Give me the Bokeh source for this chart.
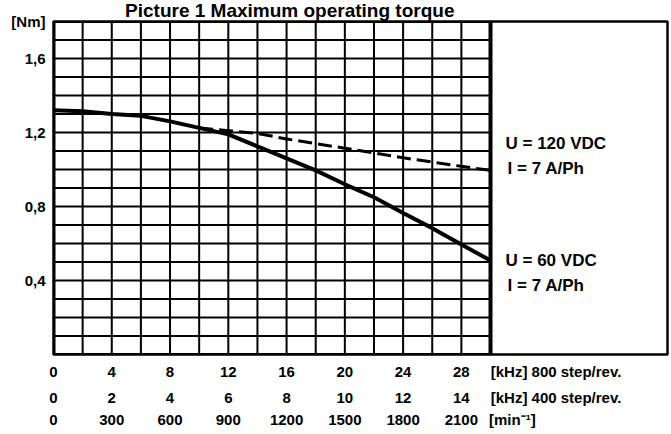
from bokeh.plotting import figure
from bokeh.models import Range1d, LinearAxis, FixedTicker, Label
from bokeh.embed import file_html
from bokeh.resources import INLINE
import numpy as np

# ---------------- data ----------------
freq_60 = [0, 2, 4, 6, 8, 10, 12, 14, 16, 18, 20, 22, 24, 26, 28, 30]          # kHz, 800 step/rev
torque_60 = [1.32, 1.315, 1.30, 1.29, 1.26, 1.225, 1.19, 1.125, 1.06, 0.995,
             0.92, 0.85, 0.765, 0.683, 0.595, 0.508]                           # Nm, U=60 VDC
freq_120 = [10, 12, 14, 16, 18, 20, 22, 24, 26, 28, 30]
torque_120 = [1.225, 1.21, 1.195, 1.165, 1.14, 1.115, 1.09, 1.063, 1.04, 1.017, 0.995]  # Nm, U=120 VDC

khz_800_ticks = [0, 4, 8, 12, 16, 20, 24, 28]
khz_400_labels = ["0", "2", "4", "6", "8", "10", "12", "14"]
rpm_labels = ["0", "300", "600", "900", "1200", "1500", "1800", "2100"]
torque_ticks = [0.4, 0.8, 1.2, 1.6]
torque_tick_labels = ["0,4", "0,8", "1,2", "1,6"]
torque_unit = "[Nm]"

series_labels = [("U = 120 VDC", "I = 7 A/Ph"), ("U = 60 VDC", "I = 7 A/Ph")]
title_text = "Picture 1  Maximum operating torque"

# ---------------- layout constants ----------------
X_MAX_GRID = 30.0
X_MAX = 42.15
Y_MAX = 1.8
FONT = "Liberation Sans"

p = figure(width=671, height=434, output_backend="svg", toolbar_location=None,
           x_range=Range1d(0, X_MAX), y_range=Range1d(0, Y_MAX),
           x_axis_location=None, y_axis_location=None,
           min_border_left=53, min_border_right=4, min_border_top=21, min_border_bottom=80)
p.xgrid.visible = False
p.ygrid.visible = False
p.outline_line_color = "black"
p.outline_line_width = 2.5
p.background_fill_color = "white"
p.border_fill_color = "white"

# grid inside the 0..30 kHz area
gx = np.arange(2, X_MAX_GRID, 2)
gy = np.round(np.arange(0.1, Y_MAX - 0.05, 0.1), 2)
p.segment(x0=gx, y0=0, x1=gx, y1=Y_MAX, line_color="black", line_width=2)
p.segment(x0=0, y0=gy, x1=X_MAX_GRID, y1=gy, line_color="black", line_width=2)
# heavy edges of the grid area
p.segment(x0=[0, X_MAX_GRID], y0=[0, 0], x1=[0, X_MAX_GRID], y1=[Y_MAX, Y_MAX],
          line_color="black", line_width=4)
p.segment(x0=[0, 0], y0=[0, Y_MAX], x1=[X_MAX_GRID, X_MAX_GRID], y1=[0, Y_MAX],
          line_color="black", line_width=3)

# curves
p.line(freq_120, torque_120, line_color="black", line_width=3, line_dash="14 6")
p.line(freq_60, torque_60, line_color="black", line_width=4)

# y axis (unit shown as the label of the top tick)
y_over = {float(t): l for t, l in zip(torque_ticks, torque_tick_labels)}
y_over[float(Y_MAX)] = torque_unit
yax = LinearAxis(ticker=FixedTicker(ticks=torque_ticks + [Y_MAX]), major_label_overrides=y_over)
yax.axis_line_color = None
yax.major_tick_line_color = None
yax.minor_tick_line_color = None
yax.major_tick_out = 0
yax.major_tick_in = 0
yax.major_label_standoff = 8
yax.major_label_text_font = FONT
yax.major_label_text_font_style = "bold"
yax.major_label_text_font_size = "15px"
yax.major_label_text_color = "black"
p.add_layout(yax, "left")

# three rows of x tick labels
UNIT_KHZ_X = 34.5
UNIT_RPM_X = 31.5
rows = [
    ({float(t): str(t) for t in khz_800_ticks}, "[kHz] 800 step/rev.", UNIT_KHZ_X, 8),
    ({float(t): l for t, l in zip(khz_800_ticks, khz_400_labels)}, "[kHz] 400 step/rev.", UNIT_KHZ_X, 6),
    ({float(t): l for t, l in zip(khz_800_ticks, rpm_labels)}, "[min\u207b\u00b9]", UNIT_RPM_X, 2),
]
for overrides, unit, ux, standoff in rows:
    ov = dict(overrides)
    ov[float(ux)] = unit
    ax = LinearAxis(ticker=FixedTicker(ticks=khz_800_ticks + [ux]), major_label_overrides=ov)
    ax.axis_line_color = None
    ax.major_tick_line_color = None
    ax.minor_tick_line_color = None
    ax.major_tick_out = 0
    ax.major_tick_in = 0
    ax.major_label_standoff = standoff
    ax.major_label_text_font = FONT
    ax.major_label_text_font_style = "bold"
    ax.major_label_text_font_size = "15px"
    ax.major_label_text_color = "black"
    p.add_layout(ax, "below")

# texts
def add_label(x, y, text, size, align="left", baseline="middle", place="center"):
    lab = Label(x=x, y=y, text=text, text_font=FONT, text_font_style="bold",
                text_font_size=size, text_color="black", text_align=align,
                text_baseline=baseline)
    p.add_layout(lab, place)

add_label(16.4, 1.857, title_text, "19px", align="center", baseline="alphabetic", place="above")
add_label(31.03, 1.14, series_labels[0][0], "17px")
add_label(31.17, 1.005, series_labels[0][1], "17px")
add_label(31.03, 0.51, series_labels[1][0], "17px")
add_label(31.17, 0.375, series_labels[1][1], "17px")

open("out.html", "w").write(file_html(p, INLINE))
